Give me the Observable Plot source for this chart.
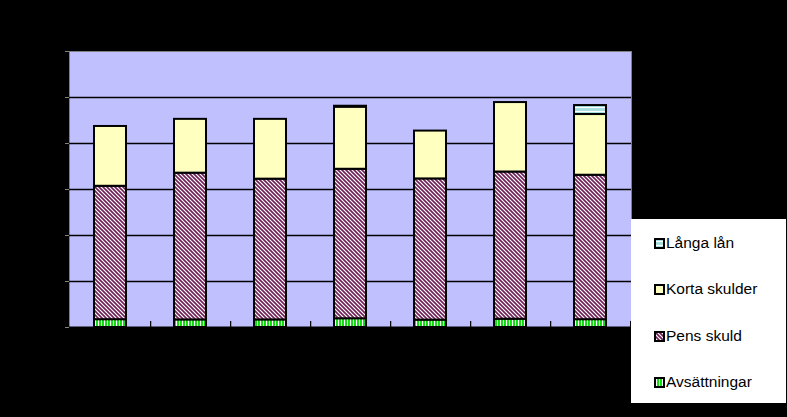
<!DOCTYPE html>
<html><head><meta charset="utf-8">
<script src="https://cdn.jsdelivr.net/npm/d3@7"></script>
<script src="https://cdn.jsdelivr.net/npm/@observablehq/plot@0.6"></script>
<style>
html,body{margin:0;padding:0;background:#000;}
#wrap{position:relative;width:787px;height:417px;background:#000;overflow:hidden;font-family:"Liberation Sans",Arial,sans-serif;}
#legend{position:absolute;left:631px;top:219px;width:155px;height:184px;background:#fff;}
.item{position:absolute;left:23px;height:18px;display:flex;align-items:center;font-size:15.5px;color:#000;white-space:nowrap;}
.item svg{margin-right:1px;}
</style></head>
<body>
<div id="wrap"><div id="legend"></div></div>
<script>
// Data (y units)
const categories = ["1","2","3","4","5","6","7"];
const seriesNames = ["Avsättningar", "Pens skuld", "Korta skulder", "Långa lån"];
const avsattningar = [17, 16.5, 16.5, 19, 16, 18, 17];
const pensSkuld    = [290, 319, 306, 325, 307, 320, 314];
const kortaSkulder = [130, 117, 130, 135, 104, 151, 132];
const langaLan     = [0, 0, 0, 2, 0, 0, 19.5];
const yTicks = [0, 100, 200, 300, 400, 500, 600];
const legendOrder = ["Långa lån", "Korta skulder", "Pens skuld", "Avsättningar"];

const seriesValues = [avsattningar, pensSkuld, kortaSkulder, langaLan];
const fills = ["url(#pAvs)", "url(#pPens)", "#ffffc0", "url(#pLanga)"];

const rows = [];
categories.forEach((c, i) => {
  seriesNames.forEach((s, j) => {
    const v = seriesValues[j][i];
    if (v > 0) rows.push({cat: c, series: s, value: v});
  });
});

const chart = Plot.plot({
  width: 787,
  height: 417,
  marginLeft: 69,
  marginRight: 156,
  marginTop: 51,
  marginBottom: 90,
  style: {background: "black"},
  x: {domain: categories, paddingInner: 0.6, paddingOuter: 0.3, axis: null},
  y: {domain: [0, 600], axis: null},
  color: {domain: seriesNames, range: fills},
  marks: [
    Plot.frame({fill: "#c0c0ff", stroke: "#808080"}),
    Plot.gridY(yTicks.slice(1, -1), {stroke: "black", strokeOpacity: 1, strokeWidth: 1.3}),
    Plot.axisY(yTicks, {tickSize: 4, stroke: "#808080", fill: "black", label: null}),
    Plot.barY(rows, {x: "cat", y: "value", fill: "series", stroke: "black", strokeWidth: 2}),
    Plot.axisX({tickSize: 6, dx: 40.14, dy: -6, tickFormat: () => "", stroke: "black", strokeWidth: 1.2, label: null}),
    Plot.ruleY([0], {stroke: "black", strokeWidth: 2})
  ]
});

const defs = `
<pattern id="pPens" patternUnits="userSpaceOnUse" width="4" height="4">
  <rect width="4" height="4" fill="#ffffff"/>
  <path d="M-1,-1 L5,5 M-1,3 L1,5 M3,-1 L5,1" stroke="#6e1f55" stroke-width="1.6"/>
</pattern>
<pattern id="pAvs" patternUnits="userSpaceOnUse" width="3" height="3">
  <rect width="3" height="3" fill="#ffffff"/>
  <rect width="2" height="3" fill="#11dd11"/>
</pattern>
<pattern id="pLanga" patternUnits="userSpaceOnUse" width="4" height="4">
  <rect width="4" height="4" fill="#a8e0e0"/>
  <rect y="3" width="4" height="1" fill="#ffffff"/>
</pattern>`;
d3.select(chart).insert("defs", ":first-child").html(defs);

document.getElementById("wrap").prepend(chart);
chart.style.position = "absolute";
chart.style.left = "0";
chart.style.top = "0";

const legendTops = [15, 61, 108, 154];
const legend = document.getElementById("legend");
legendOrder.forEach((name, k) => {
  const fill = fills[seriesNames.indexOf(name)];
  const div = document.createElement("div");
  div.className = "item";
  div.style.top = legendTops[k] + "px";
  div.innerHTML = `<svg width="11" height="11"><rect x="1" y="1" width="9" height="9" fill="${fill}" stroke="#000" stroke-width="2"/></svg><span>${name}</span>`;
  legend.appendChild(div);
});
</script>
</body></html>
